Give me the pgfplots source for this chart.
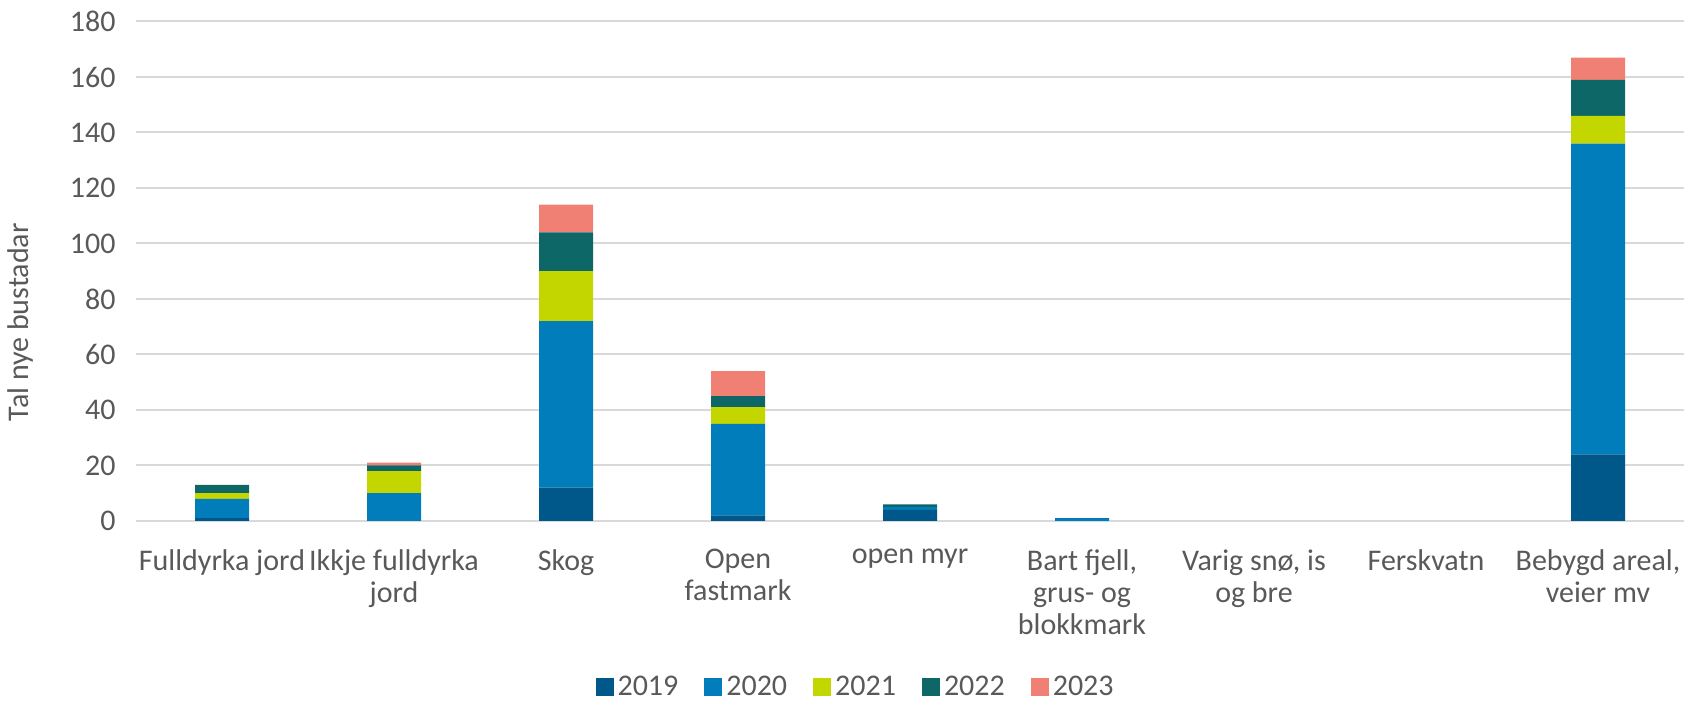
\documentclass[border=0pt]{standalone}
\usepackage{fontspec}
\setmainfont{Carlito}
\usepackage{pgfplots}
\usepackage{pgfplotstable}
\pgfplotsset{compat=1.18}
\definecolor{c19}{HTML}{00578A}
\definecolor{c20}{HTML}{007DBA}
\definecolor{c21}{HTML}{C4D600}
\definecolor{c22}{HTML}{0D6767}
\definecolor{c23}{HTML}{F08074}
\definecolor{txt}{HTML}{595959}
\definecolor{grd}{HTML}{D9D9D9}
\pgfplotstableread{
x a b c d e
0 1 7 2 3 0
1 0 10 8 2 1
2 12 60 18 14 10
3 2 33 6 4 9
4 4 1 0 1 0
5 0 1 0 0 0
6 0 0 0 0 0
7 0 0 0 0 0
8 24 112 10 13 8
}\data
\begin{document}
\begin{tikzpicture}
\begin{axis}[
  at={(68pt,90pt)}, anchor=south west,
  scale only axis, width=774pt, height=249.75pt,
  ybar stacked, bar width=27pt,
  xmin=-0.5, xmax=8.5, ymin=0, ymax=180,
  ytick={0,20,...,180},
  xtick={0,...,8},
  xticklabels={{Fulldyrka jord},{Ikkje fulldyrka\\jord},{Skog},{Open\\fastmark},{open myr},{Bart fjell,\\grus- og\\blokkmark},{Varig snø, is\\og bre},{Ferskvatn},{Bebygd areal,\\veier mv}},
  axis line style={draw=none},
  major tick length=0pt,
  ymajorgrids, grid style={grd, line width=1pt},
  /pgf/number format/assume math mode=true,
  tick label style={font=\fontsize{15}{16}\selectfont, text=txt},
  y tick label style={inner xsep=0pt, xshift=-10pt},
  x tick label style={align=center, inner ysep=0pt, yshift=-14pt},
  ylabel={Tal nye bustadar},
  every axis y label/.style={at={(axis description cs:-0.0743,0.398)}, rotate=90, anchor=center,
    font=\fontsize{15}{18}\selectfont, text=txt},
  legend columns=5,
  legend style={at={(axis description cs:0.4655,-0.332)}, anchor=center, draw=none, fill=none,
    font=\fontsize{15}{16}\selectfont, text=txt,
    /tikz/every even column/.append style={column sep=11pt}},
  legend image code/.code={\fill[#1] (0pt,-4.5pt) rectangle (9pt,4.5pt);},
]
\addplot[fill=c19, draw=none] table[x=x,y=a] {\data};
\addplot[fill=c20, draw=none] table[x=x,y=b] {\data};
\addplot[fill=c21, draw=none] table[x=x,y=c] {\data};
\addplot[fill=c22, draw=none] table[x=x,y=d] {\data};
\addplot[fill=c23, draw=none] table[x=x,y=e] {\data};
\legend{2019,2020,2021,2022,2023}
\end{axis}
\pgfresetboundingbox
\useasboundingbox (0,0) rectangle (842pt,350.5pt);
\end{tikzpicture}
\end{document}
